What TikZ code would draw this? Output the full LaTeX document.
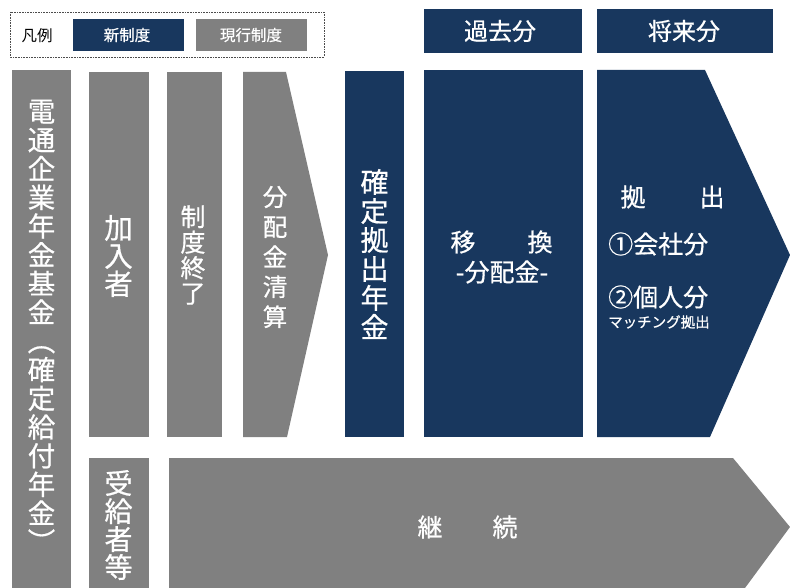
\documentclass[tikz,border=0pt]{standalone}
\usepackage{fontspec}
\setmainfont{Noto Sans CJK JP}[FakeBold=0.6]
\newfontfamily\plainjp{Noto Sans CJK JP}
\definecolor{navy}{RGB}{24,55,94}
\definecolor{gry}{RGB}{128,128,128}
\tikzset{
  wtxt/.style={text=white,inner sep=0pt,align=center},
  fs/.style 2 args={font=\fontsize{#1}{#2}\selectfont},
}
\begin{document}
\begin{tikzpicture}[x=1pt,y=-1pt]
\useasboundingbox (0,0) rectangle (790,588);
% legend
\draw[densely dotted,line width=0.6pt,black!70] (10,12) rectangle (324,57);
\node[inner sep=0pt,font=\plainjp\fontsize{15.5}{15.5}\selectfont] (lg) at (37,36) {凡例};
\fill[navy] (73,19) rectangle (184,51);
\node[wtxt,fs={15.5}{15.5}] (lgn) at (127,35) {新制度};
\fill[gry] (196,19) rectangle (307,51);
\node[wtxt,fs={15.5}{15.5}] (lgg) at (251,35) {現行制度};
% headers
\fill[navy] (424,9) rectangle (582,53);
\node[wtxt,fs={24}{24}] (h1) at (500,31) {過去分};
\fill[navy] (597,9) rectangle (773,53);
\node[wtxt,fs={24}{24}] (h2) at (684,31) {将来分};
% gray columns
\fill[gry] (12,70) rectangle (71,588);
\node[wtxt,fs={27.5}{28.7}] (c1) at (41.5,326) {電\\通\\企\\業\\年\\金\\基\\金\\︵\\確\\定\\給\\付\\年\\金\\︶};
\fill[gry] (89,72) rectangle (149,437);
\node[wtxt,fs={28.5}{28}] (c2) at (118.5,256) {加\\入\\者};
\fill[gry] (167,72) rectangle (222,437);
\node[wtxt,fs={25}{25.5}] (c3) at (193,255) {制\\度\\終\\了};
\fill[gry] (243,72) -- (286,72) -- (328,255) -- (287,437) -- (243,437) -- cycle;
\node[wtxt,fs={24.5}{30}] (c4) at (275,257) {分\\配\\金\\清\\算};
% navy columns
\fill[navy] (345,71) rectangle (404,437);
\node[wtxt,fs={28}{29}] (c5) at (374.5,254) {確\\定\\拠\\出\\年\\金};
\fill[navy] (424,70) rectangle (583,437);
\node[wtxt,fs={25}{25}] (m1) at (463,242) {移};
\node[wtxt,fs={25}{25}] (m2) at (540,242) {換};
\node[wtxt,fs={25}{25}] (m3) at (502,272) {-分配金-};
\fill[navy] (597,70) -- (705,70) -- (790,255) -- (710,437) -- (597,437) -- cycle;
\node[wtxt,fs={25}{25}] (k1) at (633,197) {拠};
\node[wtxt,fs={25}{25}] (k2) at (712,197) {出};
\node[wtxt,anchor=west,fs={25}{25}] (k3) at (608,244) {①会社分};
\node[wtxt,anchor=west,fs={25}{25}] (k4) at (608,297) {②個人分};
\node[wtxt,anchor=west,fs={14.5}{14.5}] (k5) at (608,322) {マッチング拠出};
% bottom row
\fill[gry] (89,458) rectangle (149,588);
\node[wtxt,fs={28}{28}] (c6) at (118.5,525) {受\\給\\者\\等};
\fill[gry] (169,458) -- (733,458) -- (790,527) -- (745,588) -- (169,588) -- cycle;
\node[wtxt,fs={25}{25}] (b1) at (430,527) {継};
\node[wtxt,fs={25}{25}] (b2) at (505,527) {続};
\end{tikzpicture}
\end{document}
